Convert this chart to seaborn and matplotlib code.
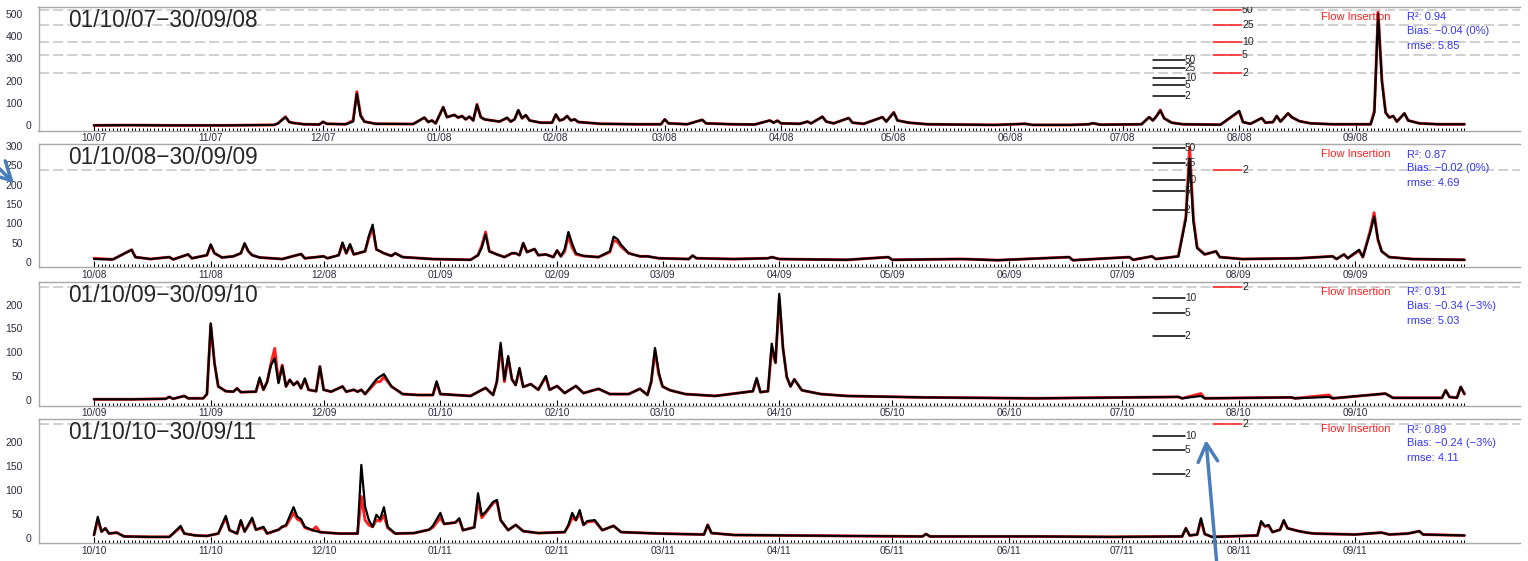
import numpy as np
import pandas as pd
import matplotlib
matplotlib.use("Agg")
import matplotlib.pyplot as plt
import seaborn as sns

sns.set_style("white")
plt.rcParams["font.family"] = ["Liberation Sans", "DejaVu Sans"]

# --- water years, one panel each ---
starts = ["2007-10-01", "2008-10-01", "2009-10-01", "2010-10-01"]
titles = ["01/10/07\u221230/09/08", "01/10/08\u221230/09/09",
          "01/10/09\u221230/09/10", "01/10/10\u221230/09/11"]

days_0708 = [0, 9, 20, 35, 48, 49, 51, 52, 53, 56,
             60, 61, 62, 67, 69, 70, 71, 72, 75, 85,
             88, 89, 90, 91, 93, 94, 96, 97, 98, 99,
             100, 101, 102, 103, 104, 106, 108, 110, 111, 112,
             113, 114, 115, 116, 119, 122, 123, 124, 125, 126,
             127, 128, 129, 135, 145, 151, 152, 153, 158, 162,
             163, 170, 176, 180, 181, 182, 183, 188, 190, 191,
             194, 195, 197, 201, 202, 205, 210, 211, 213, 214,
             217, 222, 240, 248, 250, 260, 265, 266, 268, 279,
             281, 282, 283, 284, 285, 287, 290, 300, 305, 306,
             308, 311, 312, 314, 315, 316, 318, 319, 321, 324,
             330, 340, 341, 342, 343, 344, 345, 346, 347, 349,
             350, 353, 358, 365]
obs_0708 = [3, 4, 3, 3, 5, 12, 40, 18, 14, 8,
            7, 19, 10, 8, 20, 145, 45, 20, 10, 9,
            38, 18, 25, 12, 85, 40, 50, 38, 45, 30,
            42, 25, 95, 40, 30, 25, 20, 38, 20, 30,
            72, 35, 50, 25, 15, 15, 53, 25, 30, 45,
            25, 30, 18, 10, 8, 8, 30, 12, 8, 28,
            12, 8, 7, 25, 15, 24, 12, 10, 20, 12,
            42, 20, 12, 36, 15, 10, 40, 20, 60, 25,
            15, 8, 5, 10, 5, 5, 8, 13, 6, 8,
            40, 25, 45, 70, 35, 15, 8, 6, 68, 18,
            10, 36, 15, 18, 45, 20, 57, 40, 22, 12,
            8, 8, 60, 505, 200, 60, 38, 45, 20, 57,
            25, 12, 8, 8]
fi_0708 = [3, 4, 3, 3, 5, 12, 42, 18, 14, 8,
           7, 19, 10, 8, 25, 155, 50, 20, 10, 9,
           38, 18, 25, 12, 85, 40, 50, 38, 45, 30,
           42, 25, 98, 40, 30, 25, 20, 36, 20, 30,
           70, 35, 48, 25, 15, 15, 50, 25, 30, 45,
           25, 30, 18, 10, 8, 8, 30, 12, 8, 28,
           12, 8, 7, 25, 15, 24, 12, 10, 20, 12,
           42, 20, 12, 36, 15, 10, 40, 20, 62, 25,
           15, 8, 5, 10, 5, 5, 8, 13, 6, 8,
           40, 25, 45, 72, 35, 15, 8, 6, 65, 18,
           10, 36, 15, 18, 45, 20, 57, 40, 22, 12,
           8, 8, 70, 512, 210, 60, 38, 45, 20, 57,
           25, 12, 8, 8]

days_0809 = [0, 5, 10, 11, 15, 20, 21, 25, 26, 30,
             31, 32, 34, 37, 39, 40, 41, 42, 44, 50,
             55, 56, 61, 62, 65, 66, 67, 68, 69, 72,
             73, 74, 75, 77, 79, 80, 82, 90, 100, 102,
             103, 104, 105, 107, 109, 111, 112, 113, 114, 115,
             117, 118, 120, 122, 123, 124, 125, 126, 127, 128,
             130, 134, 137, 138, 139, 140, 142, 145, 147, 150,
             158, 159, 160, 170, 179, 180, 182, 200, 211, 212,
             229, 231, 240, 259, 260, 275, 276, 281, 282, 288,
             290, 291, 292, 293, 295, 298, 299, 305, 320, 329,
             330, 332, 333, 336, 337, 339, 340, 341, 342, 344,
             350, 364]
obs_0809 = [10, 9, 34, 15, 10, 15, 9, 22, 12, 20,
            48, 25, 14, 17, 25, 51, 30, 20, 14, 10,
            23, 12, 17, 12, 20, 53, 25, 49, 22, 30,
            70, 99, 35, 25, 18, 25, 15, 10, 8, 20,
            40, 74, 30, 22, 15, 25, 25, 20, 52, 28,
            36, 20, 22, 15, 32, 17, 35, 80, 50, 25,
            18, 15, 30, 68, 62, 47, 25, 17, 17, 12,
            10, 19, 12, 10, 12, 15, 10, 8, 15, 8,
            10, 10, 7, 15, 7, 15, 8, 17, 10, 17,
            114, 270, 107, 38, 22, 30, 15, 10, 12, 17,
            10, 22, 12, 34, 15, 80, 120, 62, 30, 15,
            10, 8]
fi_0809 = [12, 9, 34, 15, 10, 15, 9, 22, 12, 20,
           46, 25, 14, 17, 25, 49, 30, 20, 14, 10,
           23, 12, 17, 12, 20, 50, 25, 45, 22, 30,
           65, 90, 35, 25, 18, 25, 15, 10, 8, 20,
           45, 80, 30, 22, 15, 25, 25, 20, 50, 28,
           36, 20, 22, 15, 32, 17, 30, 70, 40, 22,
           18, 15, 28, 58, 55, 42, 25, 17, 17, 12,
           10, 19, 12, 10, 12, 15, 10, 8, 15, 8,
           10, 10, 7, 15, 7, 15, 8, 17, 10, 17,
           120, 300, 115, 40, 22, 30, 15, 10, 12, 17,
           10, 22, 12, 32, 15, 85, 130, 60, 30, 15,
           10, 8]

days_0910 = [0, 10, 19, 20, 21, 24, 25, 29, 30, 31,
             32, 33, 35, 37, 38, 39, 43, 44, 45, 46,
             47, 48, 49, 50, 51, 52, 53, 54, 55, 56,
             57, 59, 60, 61, 63, 66, 67, 69, 70, 71,
             72, 75, 76, 77, 79, 82, 86, 90, 91, 92,
             100, 104, 106, 107, 108, 109, 110, 111, 112, 113,
             114, 116, 118, 120, 121, 123, 125, 128, 130, 134,
             137, 142, 145, 147, 148, 149, 150, 151, 153, 157,
             165, 175, 176, 177, 179, 180, 181, 182, 183, 184,
             185, 186, 188, 193, 200, 220, 250, 288, 289, 294,
             295, 318, 319, 328, 329, 343, 345, 358, 359, 360,
             362, 363, 364]
obs_0910 = [3, 3, 4, 8, 4, 10, 5, 5, 14, 163,
            79, 30, 20, 19, 26, 18, 19, 49, 23, 40,
            75, 89, 37, 73, 30, 44, 33, 40, 26, 47,
            23, 20, 72, 23, 19, 30, 19, 23, 19, 23,
            14, 45, 51, 56, 30, 14, 12, 12, 41, 14,
            10, 27, 12, 40, 122, 44, 94, 45, 33, 69,
            29, 35, 23, 52, 23, 31, 16, 31, 16, 25,
            14, 14, 25, 12, 40, 111, 60, 30, 22, 14,
            10, 20, 48, 18, 20, 120, 80, 225, 110, 50,
            30, 45, 22, 14, 10, 7, 5, 8, 5, 10,
            5, 7, 5, 8, 5, 15, 6, 6, 22, 8,
            6, 29, 14]
fi_0910 = [3, 3, 4, 8, 4, 10, 5, 5, 14, 160,
           79, 30, 20, 19, 26, 18, 19, 45, 23, 40,
           78, 110, 40, 75, 30, 44, 33, 40, 26, 45,
           23, 20, 72, 23, 19, 30, 19, 23, 19, 23,
           14, 40, 40, 50, 30, 14, 12, 12, 38, 14,
           10, 27, 12, 40, 115, 40, 90, 45, 33, 66,
           29, 35, 23, 50, 23, 31, 16, 31, 16, 25,
           14, 14, 25, 12, 40, 105, 55, 30, 22, 14,
           10, 20, 45, 18, 20, 110, 80, 215, 110, 50,
           30, 45, 22, 14, 10, 7, 5, 8, 5, 15,
           5, 7, 5, 12, 5, 15, 6, 6, 22, 8,
           6, 29, 14]

days_1011 = [0, 1, 2, 3, 4, 6, 8, 15, 20, 21,
             23, 24, 27, 30, 33, 35, 36, 38, 39, 40,
             42, 43, 45, 46, 49, 50, 51, 53, 54, 55,
             56, 58, 59, 60, 65, 70, 71, 72, 73, 74,
             75, 76, 77, 78, 80, 85, 89, 90, 92, 93,
             96, 97, 98, 101, 102, 103, 104, 106, 107, 108,
             110, 112, 114, 118, 125, 126, 127, 128, 129, 130,
             131, 133, 135, 138, 140, 150, 162, 163, 164, 170,
             200, 220, 221, 222, 250, 270, 289, 290, 291, 293,
             294, 295, 297, 309, 310, 311, 312, 313, 315, 316,
             317, 320, 322, 324, 335, 342, 344, 349, 352, 353,
             364]
obs_1011 = [9, 47, 16, 23, 12, 14, 6, 5, 5, 12,
            28, 12, 8, 7, 12, 49, 19, 12, 40, 16,
            45, 20, 26, 12, 20, 26, 30, 67, 47, 42,
            26, 19, 17, 15, 12, 12, 155, 68, 40, 26,
            51, 42, 67, 26, 12, 13, 20, 28, 55, 32,
            35, 44, 19, 25, 96, 50, 57, 78, 82, 40,
            19, 30, 17, 13, 15, 30, 55, 40, 61, 30,
            38, 40, 19, 28, 15, 12, 10, 30, 13, 9,
            7, 6, 11, 6, 6, 5, 6, 23, 8, 10,
            44, 11, 5, 8, 38, 27, 30, 15, 20, 40,
            23, 17, 14, 12, 10, 14, 10, 12, 17, 10,
            8]
fi_1011 = [9, 40, 16, 23, 12, 14, 6, 5, 5, 12,
           25, 12, 8, 7, 12, 45, 19, 12, 38, 16,
           42, 20, 24, 12, 20, 26, 28, 55, 42, 38,
           24, 19, 26, 15, 12, 12, 89, 40, 30, 26,
           40, 38, 50, 24, 12, 13, 20, 25, 45, 32,
           35, 42, 19, 25, 80, 45, 55, 75, 80, 40,
           19, 30, 17, 13, 15, 28, 45, 40, 55, 30,
           36, 38, 19, 28, 15, 12, 10, 30, 13, 9,
           7, 6, 11, 6, 6, 5, 6, 23, 8, 10,
           40, 11, 5, 8, 35, 27, 28, 15, 20, 38,
           23, 17, 14, 12, 10, 14, 10, 12, 17, 10,
           8]

# --- return-period flows (years) ---
return_periods = ["2", "5", "10", "25", "50"]
obs_return = [136, 185, 216, 259, 297]
fi_return = [240, 320, 378, 456, 522]

# --- fit statistics ---
r2 = ["0.94", "0.87", "0.91", "0.89"]
bias = ["\u22120.04 (0%)", "\u22120.02 (0%)", "\u22120.34 (\u22123%)", "\u22120.24 (\u22123%)"]
rmse = ["5.85", "4.69", "5.03", "4.11"]

# --- y axes ---
ytick_max = [500, 300, 200, 200]
ytick_step = [100, 50, 50, 50]

series = [(days_0708, obs_0708, fi_0708), (days_0809, obs_0809, fi_0809),
          (days_0910, obs_0910, fi_0910), (days_1011, obs_1011, fi_1011)]

# layout (pixels of the 1528x561 picture)
W, H = 1528, 561
LEFT, RIGHT = 38.5, 1520
tops = [6.7, 144, 281.7, 419]
bottoms = [130.7, 267.3, 405.7, 543.3]
ylims = [(-21, 537), (-11.4, 308), (-10.5, 250.5), (-8.3, 250.6)]

RED = "#ff1f1f"
BLUE = "#3636ff"
LABEL = "#2b2d42"
FRAME = "#a8a8a8"

fig = plt.figure(figsize=(W / 100, H / 100), dpi=100)

for i in range(4):
    ax = fig.add_axes([LEFT / W, 1 - bottoms[i] / H, (RIGHT - LEFT) / W,
                       (bottoms[i] - tops[i]) / H])
    days, obs, fi = series[i]
    start = pd.Timestamp(starts[i])
    end = start + pd.DateOffset(years=1) - pd.Timedelta(days=1)
    n = (end - start).days

    # dashed return-period levels of the flow insertion run
    for lvl in fi_return:
        ax.axhline(lvl, color="#c8c8c8", lw=1.2, ls=(0, (6, 2.5)), zorder=0)

    sns.lineplot(x=days, y=fi, ax=ax, color=RED, linewidth=2.1, zorder=2)
    sns.lineplot(x=days, y=obs, ax=ax, color="black", linewidth=1.6, zorder=3)

    ax.set_xlim(-0.0405 * n, n * 1.0405)
    ax.set_ylim(*ylims[i])

    # return-period markers
    ytr = ax.get_yaxis_transform()
    for rp, lo, hi in zip(return_periods, obs_return, fi_return):
        if lo < ylims[i][1]:
            ax.plot([0.7523, 0.7738], [lo, lo], color="black", lw=1.1, transform=ytr, zorder=4)
            ax.text(0.7738, lo, rp, transform=ytr, fontsize=7.2, va="center", ha="left", zorder=4)
        if hi < ylims[i][1]:
            ax.plot([0.7928, 0.8124], [hi, hi], color=RED, lw=1.1, transform=ytr, zorder=4)
            ax.text(0.8124, hi, rp, transform=ytr, fontsize=7.6, va="center", ha="left",
                    clip_on=True, zorder=4)

    # panel title and statistics
    ax.annotate(titles[i], xy=(0.0199, 1), xycoords="axes fraction", xytext=(0, -14.4),
                textcoords="offset points", fontsize=16.3, va="baseline", ha="left")
    ax.annotate("Flow Insertion", xy=(0.866, 1), xycoords="axes fraction", xytext=(0, -7.2),
                textcoords="offset points", fontsize=8, color=RED, va="center", ha="left")
    for txt, dy in [("R\u00b2: " + r2[i], 7.6), ("Bias: " + bias[i], 17.3),
                    ("rmse: " + rmse[i], 28.4)]:
        ax.annotate(txt, xy=(0.9237, 1), xycoords="axes fraction", xytext=(0, -dy),
                    textcoords="offset points", fontsize=8, color=BLUE, va="center", ha="left")

    # x axis: month labels, daily ruler ticks
    month_starts = pd.date_range(start, end, freq="MS")
    ax.set_xticks((month_starts - start).days)
    ax.set_xticklabels(month_starts.strftime("%m/%y"))
    ax.set_xticks(np.arange(0, n + 1), minor=True)
    ax.tick_params(axis="x", which="both", bottom=True, direction="in", color="black")
    ax.tick_params(axis="x", which="major", length=4.5, width=0.8, pad=1.6,
                   labelsize=7.3, labelcolor=LABEL)
    ax.tick_params(axis="x", which="minor", length=2.4, width=0.75)

    # y axis labels (the zero sits closer to the frame)
    ax.tick_params(axis="y", left=False, labelleft=False)
    for v in range(0, ytick_max[i] + 1, ytick_step[i]):
        ax.annotate(str(v), xy=(0, v), xycoords=ytr, xytext=(-4.9 if v == 0 else -11.2, 0),
                    textcoords="offset points", fontsize=7.5, color=LABEL,
                    va="center", ha="right")

    ax.set_xlabel("")
    ax.set_ylabel("")
    for side in ["left", "top", "bottom"]:
        ax.spines[side].set_color(FRAME)
        ax.spines[side].set_linewidth(1.0)
    ax.spines["right"].set_visible(False)

# blue call-out arrows laid over the figure
arrow_kw = dict(arrowstyle="->,head_length=0.65,head_width=0.35", color="#4a7ebb",
                lw=2.5, mutation_scale=20, shrinkA=0, shrinkB=0)
last = fig.axes[-1]
last.annotate("", xy=(1206, H - 440), xycoords="figure pixels", xytext=(1217, -5),
              textcoords="figure pixels", arrowprops=arrow_kw, annotation_clip=False)
last.annotate("", xy=(14, H - 183), xycoords="figure pixels", xytext=(-30, H - 140),
              textcoords="figure pixels", arrowprops=arrow_kw, annotation_clip=False)

fig.savefig("out.png", dpi=100)
